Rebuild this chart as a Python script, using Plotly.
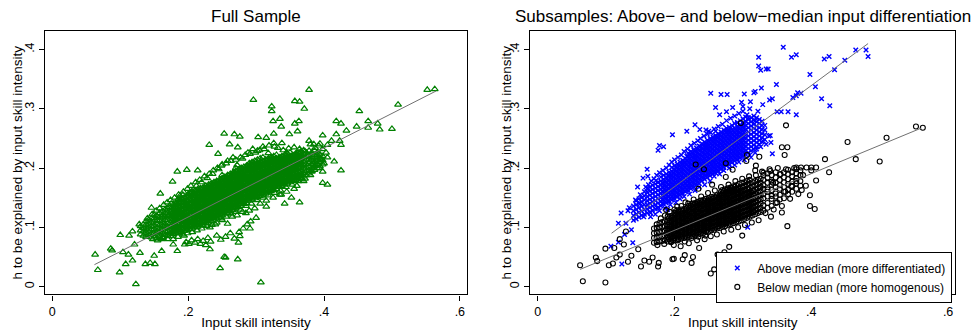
import plotly.graph_objects as go

# ---------------- data (values in thousandths of the axis units) ----------------
full_outliers = [(63,54),(67,28),(86,64),(88,61),(100,87),(99,24),(104,58),(108,38),(113,86),(112,54),
 (118,93),(118,44),(123,4),(121,71),(128,105),(129,57),(137,38),(144,40),(151,38),(150,52),(146,133),
 (159,157),(177,177),(184,194),(198,197),(188,153),(214,196),(231,239),(244,224),(253,258),(268,257),
 (276,253),(261,240),(273,235),(296,315),(303,252),(315,251),(323,304),(323,296),(335,283),(337,270),
 (325,279),(326,258),(357,313),(364,312),(378,332),(371,300),(357,275),(363,279),(361,262),(349,257),
 (378,246),(398,255),(418,279),(425,275),(433,263),(448,270),(452,296),(465,279),(465,268),(479,275),
 (482,265),(500,266),(509,307),(552,332),(563,333),(418,257),(398,194),(425,196),(398,175),(405,172),
 (415,211),(405,239),(411,246),(423,246),(425,239),(384,207),(368,181),(364,142),(342,140),(356,165),
 (337,155),(315,135),(300,116),(291,98),(285,124),(273,46),(253,50),(255,49),(247,31),(307,7),(232,63),
 (195,71),(184,60),(178,71),(161,60),(274,74),(276,85)]

full_scatter = [(161,118),(171,121),(181,124),(189,126),(202,134),(209,137),(213,142),(223,146),(229,150),
 (238,153),(243,158),(252,161),(261,166),(268,170),(278,175),(288,180),(296,184),(304,186),(314,190),
 (197,75),(201,72),(205,78),(210,74),(214,80),(218,72),(222,77),(226,70),(229,82),(233,76),(242,86),
 (248,79),(255,84),(262,90),(268,81),(275,92),(281,98),(287,105),(292,110),
 (175,140),(185,147),(192,155),(205,160),(212,170),(220,176),(228,183),(236,190),(245,198),(250,206),
 (258,212),(266,218),(272,205),(280,216),(288,226),(295,232),(302,229),(310,236),(318,225),(326,242),
 (332,234),(340,230),(348,233),(356,235),(364,232),(372,228),(380,240),(387,234),(394,241),(366,222),
 (358,221),(345,226),(338,242),(382,195),(387,205),(390,222),(393,200),(396,215),(400,208),(403,226),
 (398,232),(392,238),(385,240),(405,218),(160,80),(170,85),(178,80),(186,90),(194,86),(232,100),
 (240,105),(250,112),(258,106),(265,118),(272,120),(280,126),(290,128),(298,132),(306,140),(315,145),
 (325,150),(335,155),(345,160),(352,150),(360,170),(370,178),
 (140,115),(147,122),(153,128),(158,132),(164,138),(169,142),(174,146),(180,150),(186,155),(193,160),
 (199,165),(204,170),(211,176),(217,180),(224,186),(231,190),(237,196),(243,200),(249,204),(256,208),
 (263,212),(270,214),(277,218),(284,222),(291,224),(299,226),(305,230),(312,232),(319,238),(327,236),
 (148,80),(155,78),(163,82),(170,80),(177,85),(185,84),(192,88),(199,90),(206,92),(213,95),(220,98),
 (227,102),(235,104),(242,108),(249,115),(256,118),(263,122),(270,126),(277,130),(285,136),(293,140),
 (301,146),(310,150),(318,154),(327,158),(336,162),(344,168),(353,172),(362,178),(372,182),(380,188)]

# dense core, read column by column: (x, [y values])
full_core = [
 (130,[88,95,102]),(134,[86,93,99,105]),(138,[84,91,97,104,110]),(142,[87,93,100,106,113]),
 (146,[83,89,96,102,108,115]),(150,[85,91,97,103,110,116,121]),(154,[82,88,94,100,106,112,119]),
 (158,[86,92,98,104,111,117,124]),(162,[84,90,96,102,108,115,121,127]),(166,[87,93,99,105,112,118,124,130]),
 (170,[88,94,100,107,113,119,125,132]),(174,[90,96,102,108,115,121,127,134]),
 (178,[89,95,101,107,114,120,126,132,138]),(182,[91,97,103,110,116,122,128,135,141]),
 (186,[93,99,105,111,118,124,130,137,143]),(190,[92,98,104,111,117,123,129,136,142,148]),
 (194,[94,100,106,113,119,125,131,138,144,150]),(198,[95,101,108,114,120,126,133,139,145,152]),
 (202,[97,103,109,116,122,128,134,141,147,153,158]),(206,[98,104,111,117,123,129,136,142,148,155,160]),
 (210,[100,106,112,118,125,131,137,144,150,156,162]),(214,[101,107,114,120,126,132,139,145,151,158,164]),
 (218,[103,109,115,122,128,134,141,147,153,159,166]),(222,[104,111,117,123,129,136,142,148,155,161,167]),
 (226,[107,113,119,126,132,138,144,151,157,163,170]),(230,[108,115,121,127,133,140,146,152,159,165,172]),
 (234,[111,117,123,130,136,142,149,155,161,167,174]),(238,[113,119,125,132,138,144,151,157,163,170,176]),
 (242,[115,121,128,134,140,146,153,159,165,172,178]),(246,[117,123,130,136,142,149,155,161,168,174,180]),
 (250,[120,126,132,139,145,151,158,164,170,177,183,188]),(254,[122,128,135,141,147,154,160,166,173,179,185]),
 (258,[124,131,137,143,150,156,162,169,175,181,188]),(262,[127,133,139,146,152,158,165,171,177,184,190]),
 (266,[129,135,142,148,154,161,167,173,180,186,192]),(270,[132,138,144,151,157,163,170,176,182,189,195,200]),
 (274,[134,140,147,153,159,166,172,178,185,191,197]),(278,[136,143,149,155,162,168,174,181,187,193,200]),
 (282,[139,145,151,158,164,170,177,183,189,196,202]),(286,[141,147,154,160,166,173,179,185,192,198,204]),
 (290,[145,151,157,164,170,176,183,189,195,202,208]),(294,[147,153,160,166,172,179,185,191,198,204,210]),
 (298,[149,156,162,168,175,181,187,194,200,206,212]),(302,[151,158,164,170,177,183,189,196,202,208,214]),
 (306,[153,160,166,172,179,185,191,198,204,210,216]),(310,[155,161,168,174,180,187,193,199,206,212,218]),
 (314,[157,163,170,176,182,189,195,201,208,214]),(318,[159,165,172,178,184,191,197,203,210,216]),
 (322,[161,167,174,180,186,193,199,205,212,218]),(326,[163,170,176,182,189,195,201,208,214,220]),
 (330,[165,172,178,184,191,197,203,210,216,222]),(334,[168,174,180,187,193,199,206,212,218]),
 (338,[170,176,182,189,195,201,208,214,220]),(342,[172,178,185,191,197,204,210,216,222]),
 (346,[174,180,187,193,199,206,212,218,224]),(350,[176,182,188,195,201,207,214,220,226]),
 (354,[178,184,190,197,203,209,216,222]),(358,[180,186,192,199,205,211,218,224]),
 (362,[182,188,194,201,207,213,220,226]),(366,[184,190,196,203,209,215,222,228]),
 (370,[186,192,199,205,211,218,224,230]),(374,[188,195,201,207,214,220,226]),
 (378,[191,197,203,210,216,222,229]),(382,[194,200,207,213,219,226]),(386,[197,203,210,216,222,229]),
 (390,[200,207,213,219,226]),(394,[203,210,216,223]),(398,[206,213,220])]

full_core_b = [
 (176,[92,98,104,111,117,123,130]),(180,[93,99,106,112,118,125,131,137]),
 (184,[95,101,107,114,120,126,133,139]),(188,[96,102,108,115,121,127,134,140,146]),
 (192,[97,103,109,116,122,128,135,141,147]),(196,[98,104,111,117,123,130,136,142,149]),
 (200,[100,106,112,119,125,131,138,144,150,156]),(204,[101,107,114,120,126,133,139,145,152,158]),
 (208,[103,109,115,121,128,134,140,147,153,159]),(212,[104,110,117,123,129,135,142,148,154,161]),
 (216,[106,112,118,125,131,137,144,150,156,162]),(220,[107,114,120,126,133,139,145,152,158,164]),
 (224,[110,116,122,129,135,141,147,154,160,166]),(228,[111,118,124,130,136,143,149,155,162,168]),
 (232,[114,120,126,133,139,145,152,158,164,171]),(236,[116,122,128,135,141,147,154,160,166,173]),
 (240,[118,124,131,137,143,149,156,162,168,175]),(244,[120,126,133,139,145,152,158,164,171,177]),
 (248,[123,129,135,142,148,154,161,167,173,180]),(252,[125,131,138,144,150,157,163,169,176,182]),
 (256,[127,134,140,146,153,159,165,172,178,184]),(260,[130,136,142,149,155,161,168,174,180,187]),
 (264,[132,138,145,151,157,164,170,176,183,189]),(268,[135,141,147,154,160,166,173,179,185,192]),
 (272,[137,143,150,156,162,169,175,181,188,194]),(276,[139,146,152,158,165,171,177,184,190,196]),
 (280,[142,148,154,161,167,173,180,186,192,199]),(284,[144,150,157,163,169,176,182,188,195,201]),
 (288,[147,153,160,166,172,179,185,191,198,204]),(292,[150,156,162,169,175,181,188,194,200,206]),
 (296,[152,158,165,171,177,184,190,196,203,209]),(300,[154,161,167,173,180,186,192,199,205,211]),
 (304,[156,163,169,175,182,188,194,201,207]),(308,[158,165,171,177,184,190,196,203,209]),
 (312,[160,167,173,179,186,192,198,205,211]),(316,[162,169,175,181,188,194,200,207,213]),
 (320,[164,171,177,183,190,196,202,209,215]),(324,[166,173,179,185,192,198,204,211,217]),
 (328,[168,175,181,187,194,200,206,213]),(332,[171,177,183,190,196,202,209,215]),
 (336,[173,179,185,192,198,204,211,217]),(340,[175,181,188,194,200,207,213,219]),
 (344,[177,183,190,196,202,209,215,221]),(348,[179,185,192,198,204,211,217]),
 (352,[181,187,194,200,206,213,219]),(356,[183,189,196,202,208,215,221]),
 (360,[185,191,198,204,210,217,223]),(364,[187,193,200,206,212,219,225])]

above_outliers = [(359,404),(323,387),(323,372),(326,365),(334,367),(337,367),(371,387),(378,391),
 (398,358),(419,384),(426,388),(449,382),(434,366),(465,399),(480,399),(483,388),(406,337),(415,317),
 (427,305),(380,327),(385,326),(378,322),(373,319),(378,290),(366,295),(356,295),(350,295),(349,341),
 (343,317),(339,315),(329,307),(327,335),(316,327),(318,329),(302,325),(311,312),(300,304),(298,311),
 (285,302),(253,326),(268,324),(277,324),(260,302),(266,290),(276,295),(230,273),(197,256),(218,262),
 (237,265),(246,264),(250,262),(178,238),(184,236),(176,230),(160,198),(154,183),(161,186),(146,168),
 (158,168),(162,165),(173,179),(176,176),(143,146),(134,133),(132,128),(122,124),(118,107),(129,107),
 (127,88),(137,96),(139,74),(118,75),(123,38),(107,68),(307,100),(341,243),(343,224),(338,254),
 (195,186),(215,208),(230,220),(248,236),(262,252),(278,262),(292,276),(308,285),(322,296),(318,280),
 (310,300),(310,222),(320,232),(330,245),(340,255),(150,140),(155,118),(165,124),(175,132),(190,130),
 (150,155),(156,160),(162,172),(166,178),(170,182),(174,188),(178,192),(183,196),(188,200),(192,205),
 (196,210),(200,214),(205,218),(210,222),(214,228),(219,232),(224,238),(229,242),(234,246),(238,250),
 (243,254),(248,257),(253,260),(258,266),(264,270),(270,274),(276,280),(282,284),(288,288),(294,292),
 (300,296),(306,290),(165,118),(172,122),(178,128),(186,132),(194,138),(202,142),(208,148),(214,152),
 (222,156),(230,162),(236,168),(244,172),(252,178),(258,186),(266,190),(272,196),(280,200),(288,205),
 (294,210),(302,214),(312,218),(318,226),(326,236),(334,240)]

above_core = [
 (140,[112,120,128,136]),(144,[114,122,130,138,145]),(148,[117,125,133,141,148]),(152,[120,127,135,143,150]),
 (156,[122,130,138,146,153]),(160,[124,131,138,145,152,159,166]),(164,[126,133,140,147,154,161,168]),
 (168,[129,136,143,150,157,164,171]),(172,[131,138,145,152,159,166,173]),(176,[134,141,148,155,162,169,176]),
 (180,[136,143,150,157,164,171,178,185]),(184,[139,146,153,160,167,174,181,188]),
 (188,[141,148,155,162,169,176,183,190]),(192,[144,151,158,165,172,179,186,193]),
 (196,[146,153,160,167,174,181,188,195,201]),(200,[148,155,162,169,176,183,190,197,204]),
 (204,[151,158,165,172,179,186,193,200,207]),(208,[154,161,168,175,182,189,196,203,210]),
 (212,[157,164,171,178,185,192,199,206,213]),(216,[160,167,174,181,188,195,202,209,216]),
 (220,[162,169,176,183,190,197,204,211,218,225]),(224,[165,172,179,186,193,200,207,214,221,228]),
 (228,[168,175,182,189,196,203,210,217,224,231]),(232,[171,178,185,192,199,206,213,220,227,234]),
 (236,[174,181,188,195,202,209,216,223,230,237]),(240,[178,185,192,199,206,213,220,227,234,241]),
 (244,[181,188,195,202,209,216,223,230,237,244]),(248,[184,191,198,205,212,219,226,233,240,247]),
 (252,[187,194,201,208,215,222,229,236,243,250]),(256,[190,197,204,211,218,225,232,239,246,253]),
 (260,[192,199,206,213,220,227,234,241,248,255,262]),(264,[195,202,209,216,223,230,237,244,251,258]),
 (268,[198,205,212,219,226,233,240,247,254,261]),(272,[201,208,215,222,229,236,243,250,257,264]),
 (276,[204,211,218,225,232,239,246,253,260,267]),(280,[206,213,220,227,234,241,248,255,262,269]),
 (284,[209,216,223,230,237,244,251,258,265,272]),(288,[212,219,226,233,240,247,254,261,268,275]),
 (292,[214,221,228,235,242,249,256,263,270,277]),(296,[217,224,231,238,245,252,259,266,273,280]),
 (300,[220,227,234,241,248,255,262,269,276,283]),(304,[223,230,237,244,251,258,265,272,279,286]),
 (308,[226,233,240,247,254,261,268,275,282]),(312,[229,236,243,250,257,264,271,278,285]),
 (316,[232,239,246,253,260,267,274,281,288]),(320,[236,243,250,257,264,271,278,285]),
 (324,[240,247,254,261,268,275,282]),(328,[244,251,258,265,272,279]),(332,[248,256,264,272])]

above_core_b = [
 (182,[140,147,154,161,168,175]),(186,[143,150,157,164,171,178]),(190,[145,152,159,166,173,180,187]),
 (194,[148,155,162,169,176,183,190]),(198,[150,157,164,171,178,185,192]),
 (202,[153,160,167,174,181,188,195,202]),(206,[156,163,170,177,184,191,198,205]),
 (210,[159,166,173,180,187,194,201,208]),(214,[162,169,176,183,190,197,204,211]),
 (218,[164,171,178,185,192,199,206,213,220]),(222,[167,174,181,188,195,202,209,216,223]),
 (226,[170,177,184,191,198,205,212,219,226]),(230,[173,180,187,194,201,208,215,222,229]),
 (234,[176,183,190,197,204,211,218,225,232]),(238,[180,187,194,201,208,215,222,229,236]),
 (242,[183,190,197,204,211,218,225,232,239]),(246,[186,193,200,207,214,221,228,235,242]),
 (250,[189,196,203,210,217,224,231,238,245]),(254,[192,199,206,213,220,227,234,241,248]),
 (258,[194,201,208,215,222,229,236,243,250]),(262,[197,204,211,218,225,232,239,246,253]),
 (266,[200,207,214,221,228,235,242,249,256]),(270,[203,210,217,224,231,238,245,252,259]),
 (274,[206,213,220,227,234,241,248,255,262]),(278,[208,215,222,229,236,243,250,257,264]),
 (282,[211,218,225,232,239,246,253,260,267]),(286,[214,221,228,235,242,249,256,263]),
 (290,[216,223,230,237,244,251,258,265]),(294,[219,226,233,240,247,254,261,268]),
 (298,[222,229,236,243,250,257,264,271]),(302,[225,232,239,246,253,260,267,274])]

below_outliers = [(62,36),(66,9),(99,7),(85,49),(87,43),(99,64),(104,36),(110,39),(112,65),(115,49),
 (120,54),(120,80),(126,71),(129,93),(132,42),(137,52),(147,63),(151,34),(156,44),(163,42),(168,49),
 (177,40),(176,34),(188,129),(197,46),(199,47),(212,46),(215,53),(225,40),(227,50),(236,65),(253,22),
 (258,29),(263,54),(273,58),(274,42),(280,67),(299,86),(297,276),(363,272),(357,235),(365,235),
 (361,222),(365,102),(341,118),(357,125),(398,154),(398,136),(405,131),(407,179),(420,215),(426,193),
 (386,163),(453,244),(465,215),(500,211),(510,251),(553,270),(563,268),(378,201),(385,201),(393,201),
 (400,201),(407,201),(400,196),(306,222),(305,212),(319,204),(318,196),(324,219),(285,197),(231,206),
 (275,208),(243,198),(175,70),(185,72),(195,75),(205,78),(215,76),(225,82),(235,84),(245,86),
 (200,130),(210,136),(220,140),(235,165),(255,172),(275,185),(265,150),(285,160),(340,195),(330,192),
 (180,115),(186,120),(193,126),(199,70),(204,135),(209,68),(216,142),(221,73),(228,147),(233,78),
 (239,152),(244,80),(249,158),(253,85),(259,162),(262,88),(268,168),(272,93),(279,172),(283,96),
 (289,178),(293,100),(299,182),(303,104),(309,186),(313,108),(319,188),(323,112),(328,194),(333,124),
 (339,198),(345,130),(351,200),(357,136),(363,198),(369,148),(375,200),(381,156),(388,188),(392,170),
 (350,142),(362,160),(371,170),(378,178),(355,190),(344,175)]

below_core = [
 (170,[74,82,90,98]),(174,[75,83,91,99,105]),(178,[76,84,92,100,107]),(182,[77,85,93,101,109]),
 (186,[78,86,94,102,110]),(190,[76,83,90,97,104,111,118]),(194,[77,84,91,98,105,112,119]),
 (198,[78,85,92,99,106,113,120]),(202,[79,86,93,100,107,114,121,127]),(206,[80,87,94,101,108,115,122,129]),
 (210,[81,88,95,102,109,116,123,130]),(214,[82,89,96,103,110,117,124,131]),
 (218,[83,90,97,104,111,118,125,132]),(222,[84,91,98,105,112,119,126,133]),
 (226,[85,92,99,106,113,120,127,134,140]),(230,[86,93,100,107,114,121,128,135,141]),
 (234,[88,95,102,109,116,123,130,137,143]),(238,[89,96,103,110,117,124,131,138,145]),
 (242,[90,97,104,111,118,125,132,139,146]),(246,[92,99,106,113,120,127,134,141,148]),
 (250,[93,100,107,114,121,128,135,142,149]),(254,[95,102,109,116,123,130,137,144,151]),
 (258,[96,103,110,117,124,131,138,145,152]),(262,[98,105,112,119,126,133,140,147,154]),
 (266,[99,106,113,120,127,134,141,148,155]),(270,[101,108,115,122,129,136,143,150,157,163]),
 (274,[102,109,116,123,130,137,144,151,158,164]),(278,[104,111,118,125,132,139,146,153,160,166]),
 (282,[105,112,119,126,133,140,147,154,161,167]),(286,[107,114,121,128,135,142,149,156,163,169]),
 (290,[109,116,123,130,137,144,151,158,165,171]),(294,[110,117,124,131,138,145,152,159,166,173]),
 (298,[112,119,126,133,140,147,154,161,168,175]),(302,[114,121,128,135,142,149,156,163,170,176]),
 (306,[116,123,130,137,144,151,158,165,172,178]),(310,[118,125,132,139,146,153,160,167,174,180]),
 (314,[120,127,134,141,148,155,162,169,176]),(318,[122,129,136,143,150,157,164,171,178]),
 (322,[124,131,138,145,152,159,166,173,180]),(326,[126,133,140,147,154,161,168,175,182]),
 (330,[128,137,149,156,165,171,180,188]),(336,[133,141,152,160,164,175,184,191]),
 (342,[136,148,153,163,172,177,188]),(348,[141,152,157,168,175,184,193]),
 (354,[147,155,165,171,180,189]),(360,[149,160,168,176,184,193]),(366,[156,163,173,181,190,197]),
 (372,[160,169,177,186,193]),(378,[165,174,183,191,198]),(384,[170,178,188,196])]

below_core_b = [
 (192,[80,87,94,101,108,115]),(196,[81,88,95,102,109,116]),(200,[82,89,96,103,110,117,124]),
 (204,[83,90,97,104,111,118,125]),(208,[84,91,98,105,112,119,126]),(212,[85,92,99,106,113,120,127]),
 (216,[86,93,100,107,114,121,128]),(220,[87,94,101,108,115,122,129,136]),
 (224,[88,95,102,109,116,123,130,137]),(228,[89,96,103,110,117,124,131,138]),
 (232,[91,98,105,112,119,126,133,140]),(236,[92,99,106,113,120,127,134,141]),
 (240,[93,100,107,114,121,128,135,142]),(244,[95,102,109,116,123,130,137,144]),
 (248,[96,103,110,117,124,131,138,145]),(252,[98,105,112,119,126,133,140,147]),
 (256,[99,106,113,120,127,134,141,148]),(260,[101,108,115,122,129,136,143,150]),
 (264,[102,109,116,123,130,137,144,151]),(268,[104,111,118,125,132,139,146,153,160]),
 (272,[105,112,119,126,133,140,147,154,161]),(276,[107,114,121,128,135,142,149,156,163]),
 (280,[108,115,122,129,136,143,150,157,164]),(284,[110,117,124,131,138,145,152,159,166]),
 (288,[112,119,126,133,140,147,154,161,168]),(292,[114,121,128,135,142,149,156,163]),
 (296,[116,123,130,137,144,151,158,165]),(300,[118,125,132,139,146,153,160,167]),
 (304,[120,127,134,141,148,155,162]),(308,[122,129,136,143,150,157,164]),
 (312,[124,131,138,145,152,159]),(316,[126,133,140,147,154,161])]

# fitted lines: endpoints (x, y)
full_fit_x = [0.062, 0.565]
full_fit_y = [0.037, 0.330]
above_fit_x = [0.108, 0.483]
above_fit_y = [0.090, 0.410]
below_fit_x = [0.062, 0.561]
below_fit_y = [0.029, 0.2675]

x_ticks = [0, 0.2, 0.4, 0.6]
x_labels = ["0", ".2", ".4", ".6"]
y_ticks = [0, 0.1, 0.2, 0.3, 0.4]
y_labels = ["0", ".1", ".2", ".3", ".4"]

titles = ["Full Sample", "Subsamples: Above\u2212 and below\u2212median input differentiation"]
x_title = "Input skill intensity"
y_title = "h to be explained by input skill intensity"
legend_names = ["Above median (more differentiated)", "Below median (more homogenous)"]


def expand(cols):
    return [(x, y) for x, yl in cols for y in yl]


def xs(pts):
    return [p[0] / 1000 for p in pts]


def ys(pts):
    return [p[1] / 1000 for p in pts]


full_pts = expand(full_core) + expand(full_core_b) + full_scatter + full_outliers
above_pts = expand(above_core) + expand(above_core_b) + above_outliers
below_pts = expand(below_core) + expand(below_core_b) + below_outliers

FONT = "Liberation Sans, Arial, sans-serif"
GREEN = "#008000"
FIT = "#707070"

fig = go.Figure()

# left panel
fig.add_trace(go.Scatter(x=xs(full_pts), y=ys(full_pts), mode="markers", showlegend=False,
                         marker=dict(symbol="triangle-up-open", size=6, color=GREEN, line=dict(width=1.2, color=GREEN)),
                         xaxis="x", yaxis="y"))
fig.add_trace(go.Scatter(x=full_fit_x, y=full_fit_y, mode="lines", showlegend=False,
                         line=dict(color=FIT, width=1), xaxis="x", yaxis="y"))

# right panel (above drawn first, below on top)
fig.add_trace(go.Scatter(x=xs(above_pts), y=ys(above_pts), mode="markers", name=legend_names[0],
                         marker=dict(symbol="x-thin-open", size=4.5, color="blue", line=dict(width=1.4, color="blue")),
                         xaxis="x2", yaxis="y2", legendrank=1))
fig.add_trace(go.Scatter(x=xs(below_pts), y=ys(below_pts), mode="markers", name=legend_names[1],
                         marker=dict(symbol="circle-open", size=5, color="black", line=dict(width=1.1, color="black")),
                         xaxis="x2", yaxis="y2", legendrank=2))
fig.add_trace(go.Scatter(x=above_fit_x, y=above_fit_y, mode="lines", showlegend=False,
                         line=dict(color=FIT, width=1), xaxis="x2", yaxis="y2"))
fig.add_trace(go.Scatter(x=below_fit_x, y=below_fit_y, mode="lines", showlegend=False,
                         line=dict(color=FIT, width=1), xaxis="x2", yaxis="y2"))

W, H = 972, 330
ydom = [1 - 299 / H, 1 - 31 / H]
xdom1 = [45 / W, 467 / W]
xdom2 = [530.3 / W, 955.3 / W]

axis_common = dict(showgrid=False, zeroline=False, showline=True, mirror=True, linecolor="black",
                   linewidth=1.3, ticks="outside", ticklen=5, tickcolor="black", tickwidth=1,
                   tickfont=dict(family=FONT, size=12.5, color="black"))

xcommon = dict(axis_common, range=[-0.0108, 0.6105], tickvals=x_ticks, ticktext=x_labels,
               title=dict(text=x_title, font=dict(family=FONT, size=13.5, color="black"), standoff=2))
ycommon = dict(axis_common, range=[-0.0133, 0.432], tickvals=y_ticks, ticktext=y_labels, tickangle=-90)

fig.update_layout(
    width=W, height=H, margin=dict(l=0, r=0, t=0, b=0),
    paper_bgcolor="white", plot_bgcolor="white",
    xaxis=dict(xcommon, domain=xdom1, anchor="y"),
    yaxis=dict(ycommon, domain=ydom, anchor="x"),
    xaxis2=dict(xcommon, domain=xdom2, anchor="y2"),
    yaxis2=dict(ycommon, domain=ydom, anchor="x2"),
    legend=dict(x=716 / W, y=1 - 256 / H, xanchor="left", yanchor="top", bgcolor="white",
                bordercolor="black", borderwidth=1.3, font=dict(family=FONT, size=12, color="black"),
                tracegroupgap=0, itemwidth=30),
    annotations=[
        dict(text=titles[0], x=(xdom1[0] + xdom1[1]) / 2, y=1 - 17 / H, xref="paper", yref="paper",
             xanchor="center", yanchor="middle", showarrow=False,
             font=dict(family=FONT, size=17, color="black")),
        dict(text=titles[1], x=(xdom2[0] + xdom2[1]) / 2, y=1 - 17 / H, xref="paper", yref="paper",
             xanchor="center", yanchor="middle", showarrow=False,
             font=dict(family=FONT, size=17, color="black")),
        dict(text=y_title, x=17 / W, y=1 - 165 / H, xref="paper", yref="paper", textangle=-90,
             xanchor="center", yanchor="middle", showarrow=False,
             font=dict(family=FONT, size=13.5, color="black")),
        dict(text=y_title, x=506 / W, y=1 - 165 / H, xref="paper", yref="paper", textangle=-90,
             xanchor="center", yanchor="middle", showarrow=False,
             font=dict(family=FONT, size=13.5, color="black")),
    ],
)

fig.write_html("out.html")
